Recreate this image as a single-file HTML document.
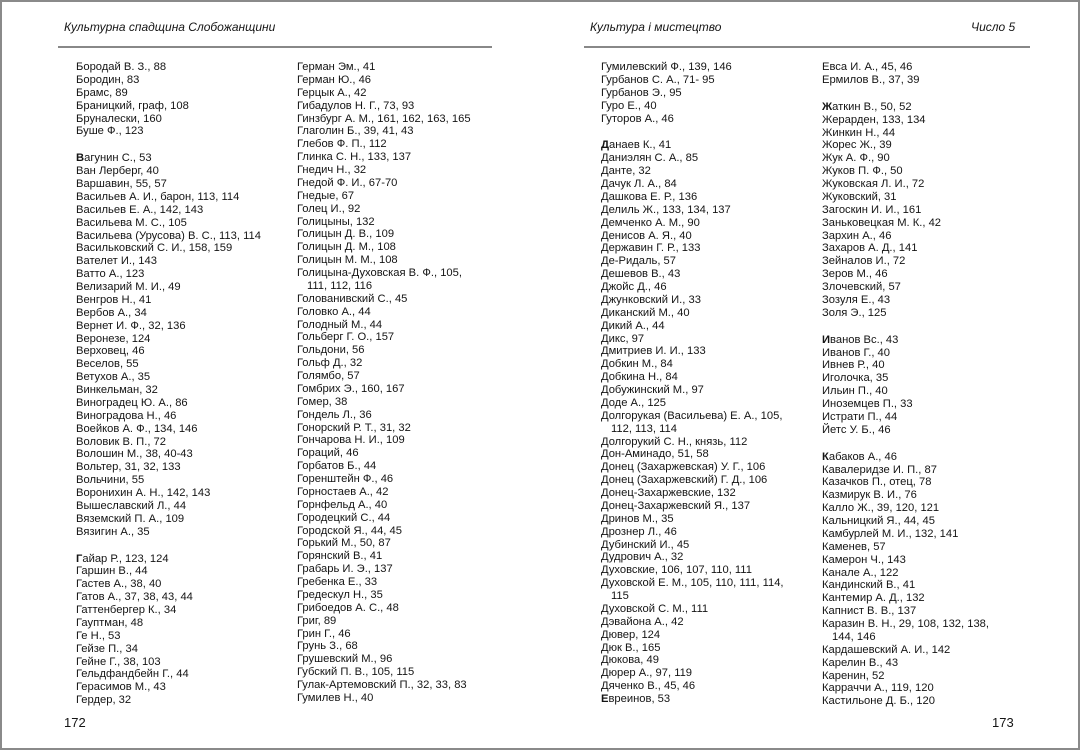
<!DOCTYPE html>
<html><head><meta charset="utf-8"><style>
html,body{margin:0;padding:0}
body{width:1080px;height:750px;background:#fff;position:relative;overflow:hidden;font-family:"Liberation Sans",Arial,sans-serif;color:#141414}
.frame{position:absolute;left:0;top:0;width:1076px;height:746px;border:2px solid #8a8a8a}
.hdr{position:absolute;top:20px;font-size:12px;font-style:italic}
.rule{position:absolute;top:46px;height:2px;background:#888}
.col{position:absolute;top:61px;font-size:11.2px;line-height:12.88px;white-space:nowrap}
.col div{height:12.88px}
.col .g{height:14px}
.col .i{padding-left:10px}
.pn{position:absolute;top:715px;font-size:13px}
</style></head><body>
<div class="frame"></div>
<div class="hdr" style="left:64px">Культурна спадщина Слобожанщини</div>
<div class="hdr" style="left:590px">Культура і мистецтво</div>
<div class="hdr" style="left:971px">Число 5</div>
<div class="rule" style="left:58px;width:434px"></div>
<div class="rule" style="left:584px;width:446px"></div>

<div class="col" style="left:76px">
<div>Бородай В. З., 88</div><div>Бородин, 83</div><div>Брамс, 89</div><div>Браницкий, граф, 108</div><div>Бруналески, 160</div><div>Буше Ф., 123</div>
<div class="g"></div>
<div><b>В</b>агунин С., 53</div><div>Ван Лерберг, 40</div><div>Варшавин, 55, 57</div><div>Васильев А. И., барон, 113, 114</div><div>Васильев Е. А., 142, 143</div><div>Васильева М. С., 105</div><div>Васильева (Урусова) В. С., 113, 114</div><div>Васильковский С. И., 158, 159</div><div>Вателет И., 143</div><div>Ватто А., 123</div><div>Велизарий М. И., 49</div><div>Венгров Н., 41</div><div>Вербов А., 34</div><div>Вернет И. Ф., 32, 136</div><div>Веронезе, 124</div><div>Верховец, 46</div><div>Веселов, 55</div><div>Ветухов А., 35</div><div>Винкельман, 32</div><div>Виноградец Ю. А., 86</div><div>Виноградова Н., 46</div><div>Воейков А. Ф., 134, 146</div><div>Воловик В. П., 72</div><div>Волошин М., 38, 40-43</div><div>Вольтер, 31, 32, 133</div><div>Вольчини, 55</div><div>Воронихин А. Н., 142, 143</div><div>Вышеславский Л., 44</div><div>Вяземский П. А., 109</div><div>Вязигин А., 35</div>
<div class="g"></div>
<div><b>Г</b>айар Р., 123, 124</div><div>Гаршин В., 44</div><div>Гастев А., 38, 40</div><div>Гатов А., 37, 38, 43, 44</div><div>Гаттенбергер К., 34</div><div>Гауптман, 48</div><div>Ге Н., 53</div><div>Гейзе П., 34</div><div>Гейне Г., 38, 103</div><div>Гельдфандбейн Г., 44</div><div>Герасимов М., 43</div><div>Гердер, 32</div>
</div>

<div class="col" style="left:297px">
<div>Герман Эм., 41</div><div>Герман Ю., 46</div><div>Герцык А., 42</div><div>Гибадулов Н. Г., 73, 93</div><div>Гинзбург А. М., 161, 162, 163, 165</div><div>Глаголин Б., 39, 41, 43</div><div>Глебов Ф. П., 112</div><div>Глинка С. Н., 133, 137</div><div>Гнедич Н., 32</div><div>Гнедой Ф. И., 67-70</div><div>Гнедые, 67</div><div>Голец И., 92</div><div>Голицыны, 132</div><div>Голицын Д. В., 109</div><div>Голицын Д. М., 108</div><div>Голицын М. М., 108</div><div>Голицына-Духовская В. Ф., 105,</div><div class="i">111, 112, 116</div><div>Голованивский С., 45</div><div>Головко А., 44</div><div>Голодный М., 44</div><div>Гольберг Г. О., 157</div><div>Гольдони, 56</div><div>Гольф Д., 32</div><div>Голямбо, 57</div><div>Гомбрих Э., 160, 167</div><div>Гомер, 38</div><div>Гондель Л., 36</div><div>Гонорский Р. Т., 31, 32</div><div>Гончарова Н. И., 109</div><div>Гораций, 46</div><div>Горбатов Б., 44</div><div>Горенштейн Ф., 46</div><div>Горностаев А., 42</div><div>Горнфельд А., 40</div><div>Городецкий С., 44</div><div>Городской Я., 44, 45</div><div>Горький М., 50, 87</div><div>Горянский В., 41</div><div>Грабарь И. Э., 137</div><div>Гребенка Е., 33</div><div>Гредескул Н., 35</div><div>Грибоедов А. С., 48</div><div>Григ, 89</div><div>Грин Г., 46</div><div>Грунь З., 68</div><div>Грушевский М., 96</div><div>Губский П. В., 105, 115</div><div>Гулак-Артемовский П., 32, 33, 83</div><div>Гумилев Н., 40</div>
</div>

<div class="col" style="left:601px">
<div>Гумилевский Ф., 139, 146</div><div>Гурбанов С. А., 71- 95</div><div>Гурбанов Э., 95</div><div>Гуро Е., 40</div><div>Гуторов А., 46</div>
<div class="g"></div>
<div><b>Д</b>анаев К., 41</div><div>Даниэлян С. А., 85</div><div>Данте, 32</div><div>Дачук Л. А., 84</div><div>Дашкова Е. Р., 136</div><div>Делиль Ж., 133, 134, 137</div><div>Демченко А. М., 90</div><div>Денисов А. Я., 40</div><div>Державин Г. Р., 133</div><div>Де-Ридаль, 57</div><div>Дешевов В., 43</div><div>Джойс Д., 46</div><div>Джунковский И., 33</div><div>Диканский М., 40</div><div>Дикий А., 44</div><div>Дикс, 97</div><div>Дмитриев И. И., 133</div><div>Добкин М., 84</div><div>Добкина Н., 84</div><div>Добужинский М., 97</div><div>Доде А., 125</div><div>Долгорукая (Васильева) Е. А., 105,</div><div class="i">112, 113, 114</div><div>Долгорукий С. Н., князь, 112</div><div>Дон-Аминадо, 51, 58</div><div>Донец (Захаржевская) У. Г., 106</div><div>Донец (Захаржевский) Г. Д., 106</div><div>Донец-Захаржевские, 132</div><div>Донец-Захаржевский Я., 137</div><div>Дринов М., 35</div><div>Дрознер Л., 46</div><div>Дубинский И., 45</div><div>Дудрович А., 32</div><div>Духовские, 106, 107, 110, 111</div><div>Духовской Е. М., 105, 110, 111, 114,</div><div class="i">115</div><div>Духовской С. М., 111</div><div>Дэвайона А., 42</div><div>Дювер, 124</div><div>Дюк В., 165</div><div>Дюкова, 49</div><div>Дюрер А., 97, 119</div><div>Дяченко В., 45, 46</div><div><b>Е</b>вреинов, 53</div>
</div>

<div class="col" style="left:822px">
<div>Евса И. А., 45, 46</div><div>Ермилов В., 37, 39</div>
<div class="g"></div>
<div><b>Ж</b>аткин В., 50, 52</div><div>Жерарден, 133, 134</div><div>Жинкин Н., 44</div><div>Жорес Ж., 39</div><div>Жук А. Ф., 90</div><div>Жуков П. Ф., 50</div><div>Жуковская Л. И., 72</div><div>Жуковский, 31</div><div>Загоскин И. И., 161</div><div>Заньковецкая М. К., 42</div><div>Зархин А., 46</div><div>Захаров А. Д., 141</div><div>Зейналов И., 72</div><div>Зеров М., 46</div><div>Злочевский, 57</div><div>Зозуля Е., 43</div><div>Золя Э., 125</div>
<div class="g"></div>
<div><b>И</b>ванов Вс., 43</div><div>Иванов Г., 40</div><div>Ивнев Р., 40</div><div>Иголочка, 35</div><div>Ильин П., 40</div><div>Иноземцев П., 33</div><div>Истрати П., 44</div><div>Йетс У. Б., 46</div>
<div class="g"></div>
<div><b>К</b>абаков А., 46</div><div>Кавалеридзе И. П., 87</div><div>Казачков П., отец, 78</div><div>Казмирук В. И., 76</div><div>Калло Ж., 39, 120, 121</div><div>Кальницкий Я., 44, 45</div><div>Камбурлей М. И., 132, 141</div><div>Каменев, 57</div><div>Камерон Ч., 143</div><div>Канале А., 122</div><div>Кандинский В., 41</div><div>Кантемир А. Д., 132</div><div>Капнист В. В., 137</div><div>Каразин В. Н., 29, 108, 132, 138,</div><div class="i">144, 146</div><div>Кардашевский А. И., 142</div><div>Карелин В., 43</div><div>Каренин, 52</div><div>Карраччи А., 119, 120</div><div>Кастильоне Д. Б., 120</div>
</div>

<div class="pn" style="left:64px">172</div>
<div class="pn" style="left:992px">173</div>
</body></html>
